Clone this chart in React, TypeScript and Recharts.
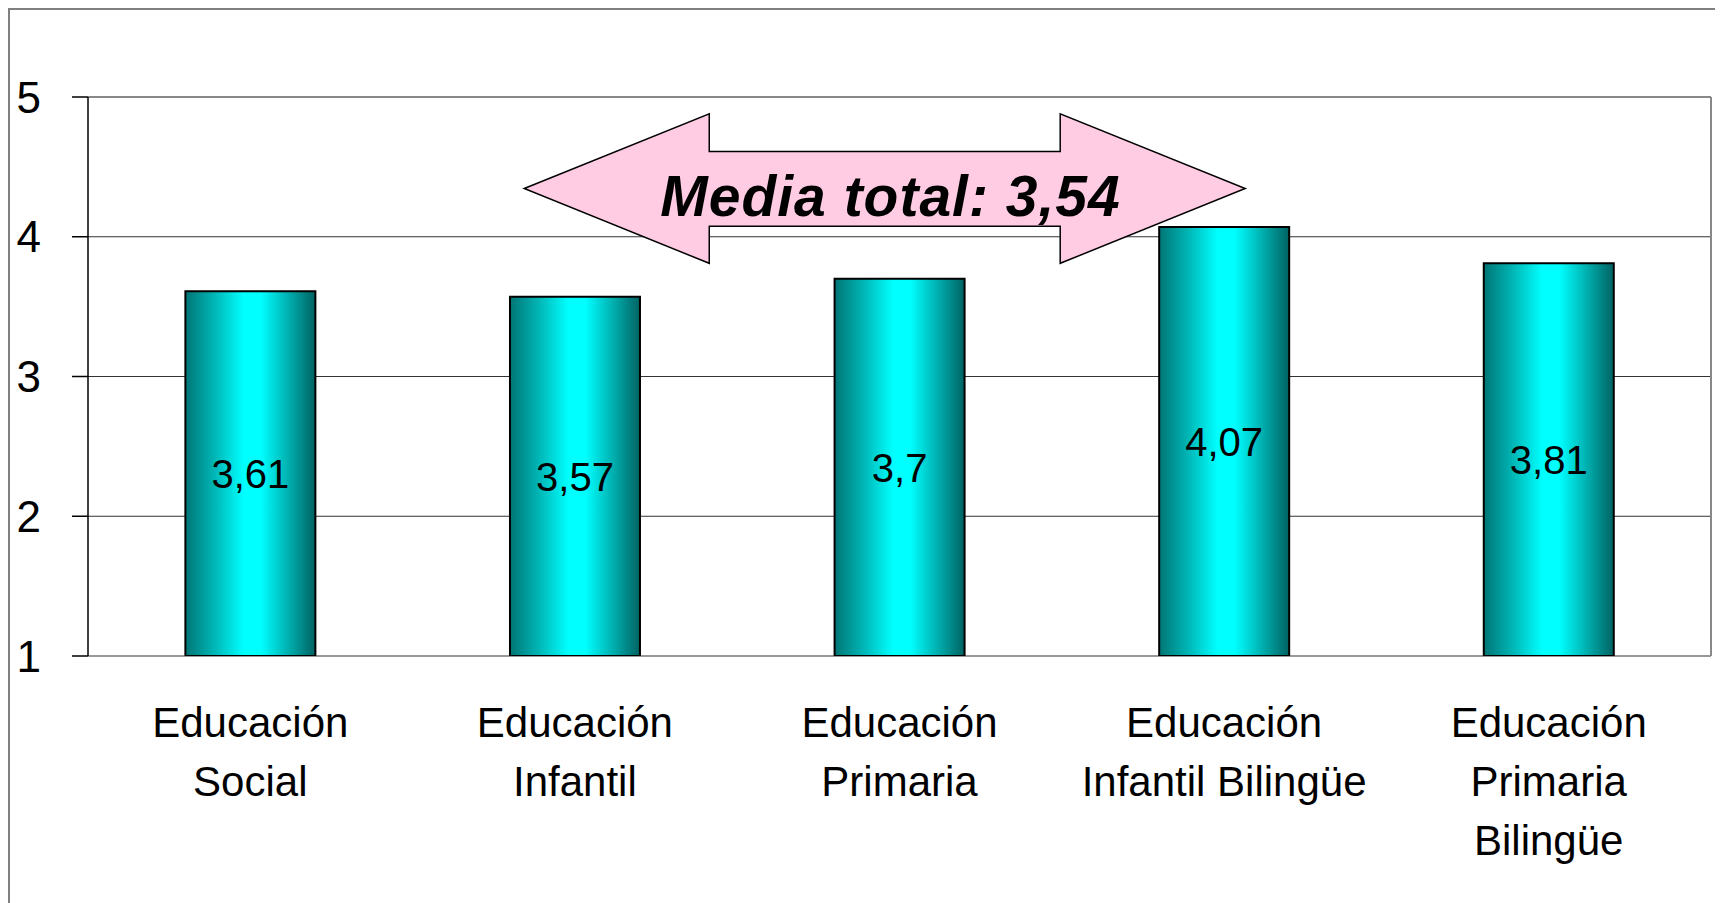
import React from 'react';
import {
    BarChart,
    Bar,
    XAxis,
    YAxis,
    CartesianGrid,
    LabelList,
    ReferenceArea,
    ReferenceLine,
} from 'recharts';

// categories and values
const CATEGORIES = [
    'Educación Social',
    'Educación Infantil',
    'Educación Primaria',
    'Educación Infantil Bilingüe',
    'Educación Primaria Bilingüe',
];
const CATEGORY_LINES = [
    ['Educación', 'Social'],
    ['Educación', 'Infantil'],
    ['Educación', 'Primaria'],
    ['Educación', 'Infantil Bilingüe'],
    ['Educación', 'Primaria', 'Bilingüe'],
];
const MEANS = [3.61, 3.57, 3.7, 4.07, 3.81];
const Y_TICKS = [1, 2, 3, 4, 5];
const BAND_TICKS = [0, 1, 2, 3, 4, 5];

// the "Media total" arrow, in axis units (x: band index, y: score)
const TOTAL_LABEL = 'Media total: 3,54';
const ARROW_X = [1.344, 3.565];
const ARROW_Y = [3.81, 4.88];

const FONT = '"Liberation Sans", Arial, sans-serif';

// slot = centre of each category band on the helper numeric axis
const data = CATEGORIES.map((name, i) => ({ name, value: MEANS[i], slot: i + 0.5 }));

const formatComma = (v: number) => String(v).replace('.', ',');

const CategoryTick = (props: any) => {
    const { x, y, index } = props;
    const lines = CATEGORY_LINES[index] ?? [];
    return (
        <g>
            {lines.map((line, i) => (
                <text
                    key={i}
                    x={x}
                    y={y + 66 + i * 59}
                    textAnchor="middle"
                    dominantBaseline="central"
                    fontFamily={FONT}
                    fontSize={42}
                    fill="#000"
                >
                    {line}
                </text>
            ))}
        </g>
    );
};

const ArrowShape = (props: any) => {
    const { x, y, width: w, height: h } = props;
    const hl = w * 0.2566;
    const st = h * 0.252;
    const sb = h * 0.752;
    const pts = [
        [x, y + h / 2],
        [x + hl, y],
        [x + hl, y + st],
        [x + w - hl, y + st],
        [x + w - hl, y],
        [x + w, y + h / 2],
        [x + w - hl, y + h],
        [x + w - hl, y + sb],
        [x + hl, y + sb],
        [x + hl, y + h],
    ]
        .map((p) => p.join(','))
        .join(' ');
    return (
        <g>
            <polygon points={pts} fill="#FFCCE4" stroke="#000" strokeWidth={1.5} />
            <text
                x={x + w * 0.508}
                y={y + h * 0.685}
                textAnchor="middle"
                fontFamily={FONT}
                fontWeight="bold"
                fontStyle="italic"
                fontSize={57}
                letterSpacing={1}
                fill="#000"
            >
                {TOTAL_LABEL}
            </text>
        </g>
    );
};

export default function App() {
    return (
        <div
            style={{
                width: 1715,
                height: 895,
                boxSizing: 'border-box',
                borderLeft: '2px solid #808080',
                borderTop: '2px solid #808080',
                borderRight: '2px solid #808080',
                background: '#fff',
            }}
        >
            <BarChart
                width={1711}
                height={893}
                data={data}
                margin={{ top: 87, right: 10, left: 0, bottom: 47 }}
                barCategoryGap="30%"
            >
                <defs>
                    <linearGradient id="cylinder" x1="0" y1="0" x2="1" y2="0">
                        <stop offset="0%" stopColor="#007575" />
                        <stop offset="22%" stopColor="#00B5B5" />
                        <stop offset="45%" stopColor="#00FFFF" />
                        <stop offset="58%" stopColor="#00FFFF" />
                        <stop offset="82%" stopColor="#00A5A5" />
                        <stop offset="100%" stopColor="#006262" />
                    </linearGradient>
                </defs>
                <ReferenceArea
                    xAxisId="num"
                    x1={ARROW_X[0]}
                    x2={ARROW_X[1]}
                    y1={ARROW_Y[0]}
                    y2={ARROW_Y[1]}
                    shape={ArrowShape}
                    ifOverflow="visible"
                />
                <CartesianGrid xAxisId="num" vertical={false} stroke="#333" strokeWidth={1} />
                <XAxis
                    xAxisId="num"
                    dataKey="slot"
                    type="number"
                    domain={[0, 5]}
                    ticks={BAND_TICKS}
                    allowDataOverflow
                    height={0}
                    tick={false}
                    tickSize={16}
                    axisLine={{ stroke: '#000', strokeWidth: 1.5 }}
                    tickLine={{ stroke: '#000', strokeWidth: 1.5 }}
                />
                <XAxis
                    xAxisId="cat"
                    dataKey="name"
                    height={200}
                    interval={0}
                    axisLine={false}
                    tickLine={false}
                    tickSize={0}
                    tickMargin={0}
                    tick={<CategoryTick />}
                />
                <YAxis
                    width={78}
                    domain={[1, 5]}
                    ticks={Y_TICKS}
                    allowDataOverflow
                    tickSize={16}
                    tickMargin={31}
                    axisLine={{ stroke: '#000', strokeWidth: 1.5 }}
                    tickLine={{ stroke: '#000', strokeWidth: 1.5 }}
                    tick={{ fontFamily: FONT, fontSize: 44, fill: '#000' }}
                />
                <ReferenceLine y={5} xAxisId="num" stroke="#888" strokeWidth={2} />
                <ReferenceLine x={5} xAxisId="num" stroke="#888" strokeWidth={2} />
                <Bar
                    xAxisId="cat"
                    dataKey="value"
                    fill="url(#cylinder)"
                    stroke="#000"
                    strokeWidth={2}
                    isAnimationActive={false}
                >
                    <LabelList
                        dataKey="value"
                        position="center"
                        formatter={formatComma}
                        fontFamily={FONT}
                        fontSize={40}
                        fill="#000"
                    />
                </Bar>
            </BarChart>
        </div>
    );
}
